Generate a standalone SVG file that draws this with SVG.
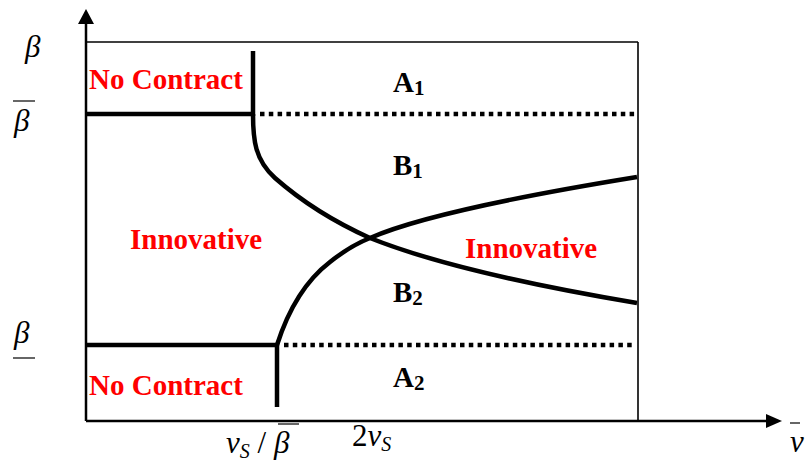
<svg xmlns="http://www.w3.org/2000/svg" width="806" height="461" viewBox="0 0 806 461">
<style>
.lbl{font-family:"Liberation Serif",serif;font-weight:bold;font-size:29px;fill:#ff0000}
.reg{font-family:"Liberation Serif",serif;font-weight:bold;font-size:29px;fill:#000}
.sub{font-size:21px}
.math{font-family:"Liberation Serif",serif;font-style:italic;font-size:31px;fill:#000}
.axis{stroke:#000;stroke-width:2.5;fill:none}
.thin{stroke:#000;stroke-width:1.6;fill:none}
.thick{stroke:#000;stroke-width:4.5;fill:none}
.dot{stroke:#000;stroke-width:4.5;fill:none;stroke-dasharray:4.5 4.3}
</style>
<rect width="806" height="461" fill="#fff"/>
<g id="axes">
<line class="axis" x1="86" y1="421" x2="86" y2="22"/>
<polygon points="86,9 78,24 94,24" fill="#000"/>
<line class="axis" x1="86" y1="421" x2="768" y2="421"/>
<polygon points="782,421 766,414 766,428" fill="#000"/>
<line class="thin" x1="86" y1="42" x2="638" y2="42"/>
<line class="thin" x1="638" y1="42" x2="638" y2="421"/>
</g>
<g id="connectors">
<line class="thick" x1="86" y1="114" x2="255" y2="114"/>
<line class="thick" x1="253" y1="51" x2="253" y2="116"/>
<line class="dot" x1="260" y1="114" x2="636" y2="114"/>
<path class="thick" d="M253,114 C253,140 255,160 275,178 C300,200 330,220 370,238 C420,258 500,280 637,303"/>
<line class="thick" x1="86" y1="345" x2="279" y2="345"/>
<line class="thick" x1="277" y1="343" x2="277" y2="407"/>
<line class="dot" x1="284" y1="345" x2="636" y2="345"/>
<path class="thick" d="M277,345 C285,320 300,285 330,262 C345,250 355,244 370,238 C420,216 520,196 637,177"/>
</g>
<g id="nc-top"><text class="lbl" x="89" y="89">No Contract</text></g>
<g id="nc-bot"><text class="lbl" x="89" y="395">No Contract</text></g>
<g id="innov-left"><text class="lbl" x="130" y="249">Innovative</text></g>
<g id="innov-right"><text class="lbl" x="465" y="258">Innovative</text></g>
<g id="A1"><text class="reg" x="393" y="92">A<tspan class="sub" dy="3">1</tspan></text></g>
<g id="B1"><text class="reg" x="393" y="175">B<tspan class="sub" dy="3">1</tspan></text></g>
<g id="B2"><text class="reg" x="393" y="302">B<tspan class="sub" dy="3">2</tspan></text></g>
<g id="A2"><text class="reg" x="393" y="387">A<tspan class="sub" dy="3">2</tspan></text></g>
<g id="labels">
<text class="math" x="25" y="57">β</text>
<line x1="13" y1="101" x2="35" y2="101" stroke="#000" stroke-width="1.2"/>
<text class="math" x="14" y="131">β</text>
<text class="math" x="14" y="343">β</text>
<line x1="13" y1="358" x2="35" y2="358" stroke="#000" stroke-width="1.2"/>
<text class="math" x="226" y="453" font-size="34">v<tspan font-size="20" dy="5">S</tspan><tspan dy="-5" font-style="normal"> / </tspan>β</text>
<line x1="278" y1="424" x2="299" y2="424" stroke="#000" stroke-width="1.2"/>
<text class="math" x="352" y="446"><tspan font-style="normal">2</tspan>v<tspan font-size="20" dy="5">S</tspan></text>
<line x1="790" y1="423" x2="800" y2="423" stroke="#000" stroke-width="1.2"/>
<text class="math" x="790" y="452">v</text>
</g>
</svg>
